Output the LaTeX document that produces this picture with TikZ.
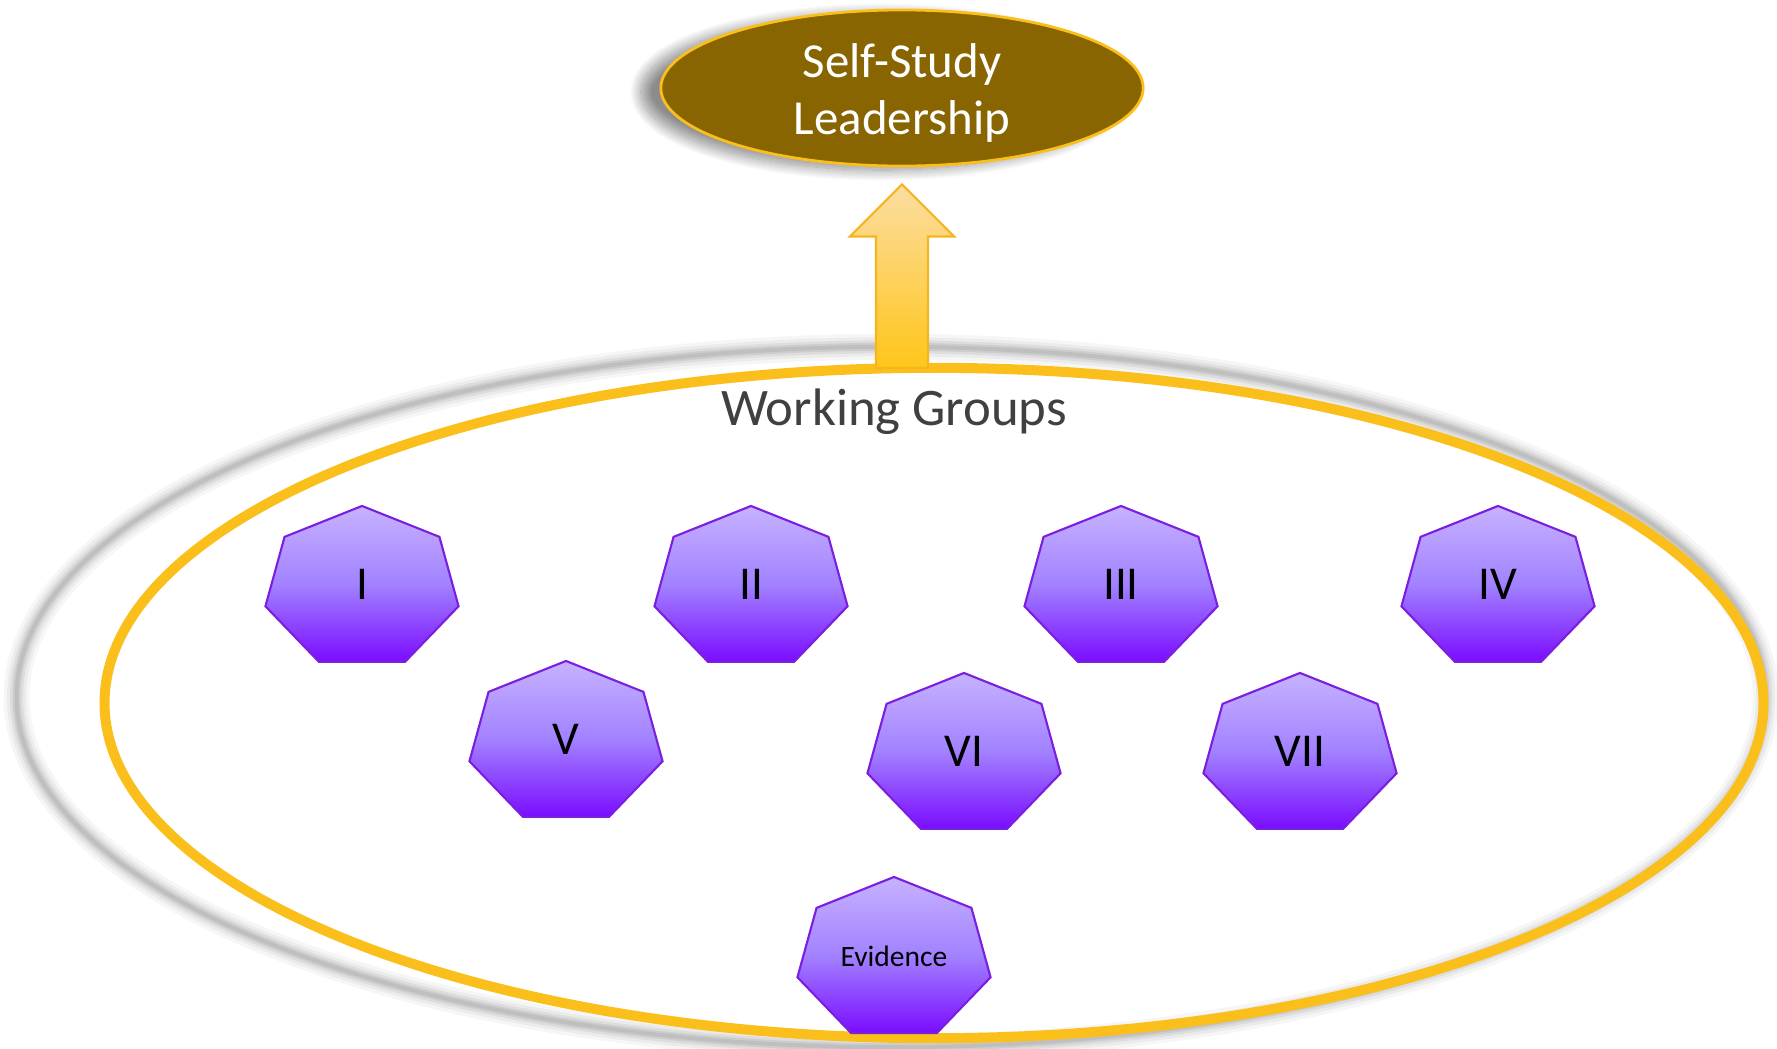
\documentclass[tikz,border=0pt]{standalone}
\usepackage{fontspec}
\setmainfont{Carlito}
\usetikzlibrary{shapes.geometric,calc,shadows.blur}

\definecolor{leadbrown}{HTML}{886500}
\definecolor{gold}{HTML}{FBBF1C}
\definecolor{goldedge}{HTML}{F5B51E}
\definecolor{arrowtop}{HTML}{FCDDA2}
\definecolor{arrowbot}{HTML}{FFC61A}
\definecolor{grptop}{HTML}{C6B2FF}
\definecolor{grpmid}{HTML}{A282FF}
\definecolor{grpbot}{HTML}{7A0CFF}
\definecolor{grpedge}{HTML}{7A1FE0}
\definecolor{wgtext}{HTML}{404040}

\tikzset{
  grp/.style={draw=grpedge, line width=0.6pt, top color=grptop, bottom color=grpbot, middle color=grpmid},
  grplabel/.style={inner sep=0pt, font=\fontsize{13.4}{16}\selectfont},
  blockarrow/.style={draw=goldedge, line width=0.6pt, top color=arrowtop, bottom color=arrowbot},
}

\begin{document}
\begin{tikzpicture}[x=0.01cm,y=-0.01cm]
\useasboundingbox (0,0) rectangle (1777,1048);

% soft grey ring behind the groups
\foreach \w/\o in {26/0.035,19/0.045,13/0.06,8/0.07,4/0.07}
  \draw[line width=\w*0.01cm, black, opacity=\o] (891,697) ellipse [x radius=8.74cm, y radius=3.5cm];

\node[ellipse, draw=gold, line width=2.85pt, minimum width=16.58cm, minimum height=6.70cm, inner sep=0pt, outer sep=0pt] (groups) at (934,703) {};
\node[text=wgtext, anchor=base, inner sep=0pt, font=\fontsize{15}{18}\selectfont] (wg) at (894,425) {Working Groups};

\node[ellipse, draw=gold, line width=0.8pt, fill=leadbrown, minimum width=4.82cm, minimum height=1.56cm, inner sep=0pt,
  blur shadow={shadow xshift=-0.2cm, shadow yshift=-0.04cm, shadow blur radius=0.11cm, shadow blur steps=20, shadow opacity=45}] (lead) at (902,88) {};
\node[text=white, align=center, inner sep=0pt, font=\fontsize{13.9}{16.1}\selectfont] (leadtxt) at (902,93) {Self-Study\\Leadership};

% arrow from the groups up to the leadership
\coordinate (tip) at ([yshift=-0.17cm]lead.south);
\coordinate (base) at (tip |- groups.north);
\draw[blockarrow] ($(base)+(-26,0)$) -- ($(tip)+(-26,52)$) -- ($(tip)+(-52,52)$) -- (tip)
  -- ($(tip)+(52,52)$) -- ($(tip)+(26,52)$) -- ($(base)+(26,0)$) -- cycle;

% the seven groups
\foreach \nm/\x/\y/\lab in {g1/362/588/I, g2/751/588/II, g3/1121/588/III, g4/1498/588/IV,
    g5/566/743/V, g6/964/755/VI, g7/1300/755/VII}{
  \draw[grp, shift={(\x,\y)}] (90:0.99cm and 0.82cm)
    \foreach \k in {1,...,6}{ -- (90+\k*360/7:0.99cm and 0.82cm)} -- cycle;
  \node[grplabel] (\nm) at (\x,\y-4) {\lab};
}

\draw[grp, shift={(894,959)}] (90:0.99cm and 0.82cm)
  \foreach \k in {1,...,6}{ -- (90+\k*360/7:0.99cm and 0.82cm)} -- cycle;
\node[inner sep=0pt, font=\fontsize{8.4}{10}\selectfont] (ev) at (894,956) {Evidence};
\end{tikzpicture}
\end{document}
